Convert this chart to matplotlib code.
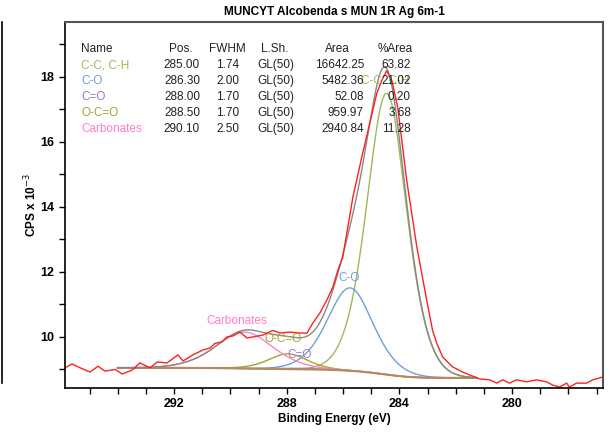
import numpy as np
import matplotlib
matplotlib.use("Agg")
import matplotlib.pyplot as plt
from matplotlib.lines import Line2D
from matplotlib.ticker import MultipleLocator

plt.rcParams["font.family"] = ["Liberation Sans", "DejaVu Sans"]

# fit table (as printed on the chart)
names = ["C-C, C-H", "C-O", "C=O", "O-C=O", "Carbonates"]
pos_tab = ["285.00", "286.30", "288.00", "288.50", "290.10"]
fwhm_tab = ["1.74", "2.00", "1.70", "1.70", "2.50"]
shape_tab = ["GL(50)"] * 5
area_tab = ["16642.25", "5482.36", "52.08", "959.97", "2940.84"]
pct_tab = ["63.82", "21.02", "0.20", "3.68", "11.28"]
colors = ["#9bbb59", "#6f9fd8", "#9a7fc4", "#a5a52a", "#ff7fc8"]

# components as drawn on the plot (centre eV, height kCPS above bg, fwhm eV)
centres = [284.45, 285.75, 287.4, 287.95, 289.5]
heights = [8.65, 2.55, 0.03, 0.47, 1.12]
fwhms = [1.74, 2.00, 1.70, 1.70, 2.50]

# Shirley background end points (eV, kCPS)
bg_lo_be, bg_lo = 281.25, 8.74
bg_hi_be, bg_hi = 294.0, 9.05

be_raw = [295.87, 295.62, 295.33, 294.98, 294.70, 294.45, 294.09, 293.84, 293.49,
          293.21, 292.85, 292.60, 292.25, 291.86, 291.68, 291.33, 290.97, 290.72,
          290.55, 290.30, 290.12, 289.91, 289.66, 289.41, 289.20, 288.84, 288.49,
          288.24, 287.89, 287.53, 287.28, 287.07, 286.82, 286.57, 286.36, 286.18,
          286.01, 285.65, 285.30, 285.05, 284.80, 284.62, 284.45, 284.27, 284.06,
          283.74, 283.38, 283.03, 282.82, 282.67, 282.46, 282.11, 281.75, 281.50,
          281.15, 280.79, 280.55, 280.33, 280.09, 279.84, 279.48, 279.13, 278.77,
          278.56, 278.31, 278.06, 277.96, 277.71, 277.35, 277.14, 276.89, 276.79]
cps_raw = [9.05, 9.17, 9.05, 8.92, 9.10, 8.95, 9.00, 8.86, 8.98,
           9.20, 9.05, 9.23, 9.20, 9.45, 9.26, 9.45, 9.60, 9.66,
           9.80, 9.85, 10.00, 10.03, 10.15, 9.97, 10.00, 10.06, 10.20,
           10.12, 10.15, 10.12, 10.12, 10.43, 10.74, 11.14, 11.54, 12.06,
           12.45, 14.30, 15.66, 16.58, 17.50, 17.90, 18.19, 17.90, 17.08,
           14.83, 12.77, 11.14, 10.20, 9.80, 9.38, 9.08, 8.92, 8.83,
           8.71, 8.68, 8.58, 8.68, 8.58, 8.68, 8.62, 8.68, 8.62,
           8.52, 8.46, 8.58, 8.46, 8.58, 8.58, 8.68, 8.74, 8.77]


def gl50(x, c, h, f):
    u = (x - c) ** 2 / f ** 2
    return h * np.exp(-2 * np.log(2) * u) / (1 + 2 * u)


x = np.linspace(bg_lo_be, bg_hi_be, 600)
comps = [gl50(x, c, h, f) for c, h, f in zip(centres, heights, fwhms)]
total = np.sum(comps, axis=0)
cum = np.concatenate([[0], np.cumsum((total[1:] + total[:-1]) / 2 * np.diff(x))])
bg = bg_lo + (bg_hi - bg_lo) * cum / cum[-1]

fig = plt.figure(figsize=(6.13, 4.32), dpi=100)
ax = fig.add_axes([65 / 613, 1 - 388 / 432, 538 / 613, 366 / 432])

for comp, col in zip(comps, colors):
    ax.plot(x, comp + bg, color=col, lw=1)
ax.plot(x, bg, color="#b58a5c", lw=1.5)
ax.plot(x, total + bg, color="#888888", lw=1)
ax.plot(be_raw, cps_raw, color="#ff2020", lw=1)

ax.set_xlim(295.87, 276.77)
ax.set_ylim(8.43, 19.69)
ax.xaxis.set_major_locator(MultipleLocator(4))
ax.xaxis.set_minor_locator(MultipleLocator(1))
ax.yaxis.set_major_locator(MultipleLocator(2))
ax.yaxis.set_minor_locator(MultipleLocator(1))
ax.tick_params(which="both", direction="out", length=4, width=1, labelsize=9)
for lab in ax.get_xticklabels() + ax.get_yticklabels():
    lab.set_fontweight("bold")
for s in ["left", "bottom"]:
    ax.spines[s].set_color("black")
    ax.spines[s].set_linewidth(1.2)
for s in ["top", "right"]:
    ax.spines[s].set_color("#555555")
    ax.spines[s].set_linewidth(1.5)

ax.set_title("MUNCYT Alcobenda s MUN 1R Ag 6m-1", fontsize=8.5, fontweight="bold", pad=5)
ax.set_xlabel("Binding Energy (eV)", fontsize=8.5, fontweight="bold", labelpad=2)
ax.set_ylabel("CPS x 10$^{-3}$", fontsize=8.5, fontweight="bold", labelpad=1)

# peak labels on the plot
ax.text(284.52, 17.88, "C-C, C-H", color=colors[0], fontsize=8.5, ha="center", va="center")
ax.text(285.79, 11.82, "C-O", color=colors[1], fontsize=8.5, ha="center", va="center")
ax.text(289.77, 10.49, "Carbonates", color=colors[4], fontsize=8.5, ha="center", va="center")
ax.text(288.13, 9.94, "O-C=O", color=colors[3], fontsize=8.5, ha="center", va="center")
ax.text(287.53, 9.45, "C=O", color=colors[2], fontsize=8.5, ha="center", va="center")

# fit table
def ftext(px, py, s, **kw):
    fig.text(px / 613, 1 - py / 432, s, fontsize=8.5, va="center", **kw)

hdr_y = 49
ftext(81, hdr_y, "Name", color="#222222")
ftext(193, hdr_y, "Pos.", ha="right", color="#222222")
ftext(227, hdr_y, "FWHM", ha="center", color="#222222")
ftext(275, hdr_y, "L.Sh.", ha="center", color="#222222")
ftext(350, hdr_y, "Area", ha="right", color="#222222")
ftext(413, hdr_y, "%Area", ha="right", color="#222222")
for i in range(len(names)):
    y = 65 + 16 * i
    ftext(81, y, names[i], color=colors[i])
    ftext(200, y, pos_tab[i], ha="right", color="#222222")
    ftext(228, y, fwhm_tab[i], ha="center", color="#222222")
    ftext(276, y, shape_tab[i], ha="center", color="#222222")
    ftext(364, y, area_tab[i], ha="right", color="#222222")
    ftext(411, y, pct_tab[i], ha="right", color="#222222")

fig.add_artist(Line2D([2 / 613, 2 / 613], [1 - 22 / 432, 1 - 383 / 432], color="black", lw=1.2))

fig.savefig("out.png", dpi=100)
